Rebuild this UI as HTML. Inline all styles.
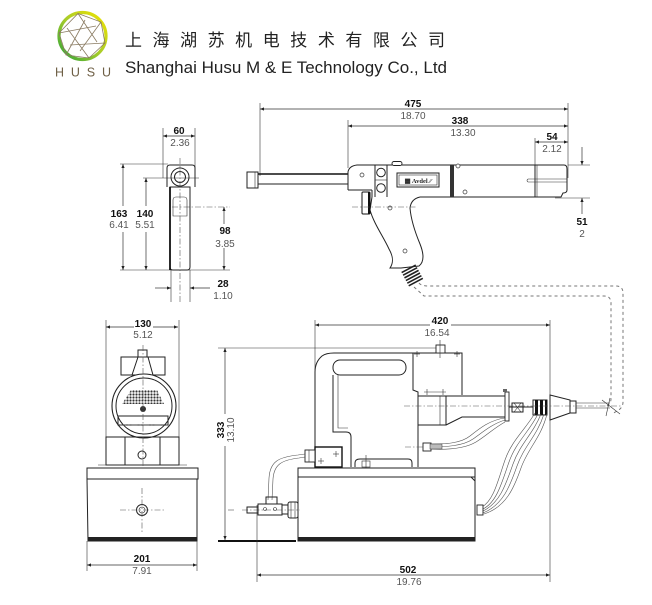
<!DOCTYPE html>
<html><head><meta charset="utf-8"><style>
html,body{margin:0;padding:0;background:#fff;}
svg{display:block;}
.l{fill:none;stroke:#222;stroke-width:1;}
.t{fill:none;stroke:#333;stroke-width:0.6;}
.d{fill:none;stroke:#333;stroke-width:0.7;}
.c{fill:none;stroke:#555;stroke-width:0.6;stroke-dasharray:6 2 1.5 2;}
.n{font-family:"Liberation Sans",sans-serif;font-size:10px;font-weight:bold;fill:#111;text-anchor:middle;}
.i{font-family:"Liberation Sans",sans-serif;font-size:10px;fill:#555;text-anchor:middle;}
</style></head><body>
<svg width="652" height="605" viewBox="0 0 652 605" xmlns="http://www.w3.org/2000/svg">
<defs>
<marker id="a" viewBox="0 0 10 10" refX="10" refY="5" markerUnits="userSpaceOnUse" markerWidth="7" markerHeight="4" orient="auto-start-reverse"><path d="M0,1 L10,5 L0,9z" fill="#222"/></marker>
<linearGradient id="g" x1="0" y1="1" x2="1" y2="0"><stop offset="0" stop-color="#2ea43a"/><stop offset="0.5" stop-color="#a8cc2a"/><stop offset="1" stop-color="#f2e400"/></linearGradient>
<pattern id="dots" width="3" height="3" patternUnits="userSpaceOnUse"><circle cx="1.5" cy="1.5" r="1.1" fill="#333"/></pattern>
</defs>

<!-- HEADER -->
<circle cx="82.5" cy="36" r="23.5" fill="none" stroke="url(#g)" stroke-width="3.2"/>
<g stroke="#8a7b62" stroke-width="0.8" fill="none">
<polygon points="78,13.5 101,22 105,43 89,58 66,55 59,33"/>
<line x1="78" y1="13.5" x2="97" y2="42"/>
<line x1="101" y1="22" x2="80" y2="51"/>
<line x1="105" y1="43" x2="70" y2="45"/>
<line x1="89" y1="58" x2="67" y2="28"/>
<line x1="66" y1="55" x2="85" y2="20"/>
<line x1="59" y1="33" x2="96" y2="26"/>
</g>
<text x="55" y="76.5" font-family="Liberation Sans,sans-serif" font-size="12.5" fill="#6e5f45" textLength="56" lengthAdjust="spacing">HUSU</text>
<text x="125" y="46" font-family="'Liberation Sans','Noto Sans CJK SC',sans-serif" font-size="17" fill="#222" textLength="320" lengthAdjust="spacing">上海湖苏机电技术有限公司</text>
<text x="125" y="73" font-family="Liberation Sans,sans-serif" font-size="17" fill="#222" textLength="322" lengthAdjust="spacingAndGlyphs">Shanghai Husu M &amp; E Technology Co., Ltd</text>

<!-- GUN FRONT VIEW -->
<line class="t" x1="163" y1="128" x2="163" y2="178"/>
<line class="t" x1="195" y1="128" x2="195" y2="178"/>
<line class="d" x1="163" y1="136" x2="195" y2="136" marker-start="url(#a)" marker-end="url(#a)"/>
<text class="n" x="179" y="134">60</text><text class="i" x="180" y="146">2.36</text>
<line class="t" x1="120" y1="164" x2="168" y2="164"/>
<line class="t" x1="143" y1="178" x2="199" y2="178"/>
<line class="t" x1="120" y1="270" x2="230" y2="270"/>
<line class="c" x1="172" y1="207" x2="230" y2="207"/>
<line class="d" x1="123" y1="164" x2="123" y2="270" marker-start="url(#a)" marker-end="url(#a)"/>
<line class="d" x1="146" y1="178" x2="146" y2="270" marker-start="url(#a)" marker-end="url(#a)"/>
<line class="d" x1="224" y1="207" x2="224" y2="270" marker-start="url(#a)" marker-end="url(#a)"/>
<rect x="112" y="206" width="42" height="26" fill="#fff"/>
<text class="n" x="119" y="217">163</text><text class="i" x="119" y="228">6.41</text>
<text class="n" x="145" y="217">140</text><text class="i" x="145" y="228">5.51</text>
<rect x="216" y="224" width="20" height="24" fill="#fff"/>
<text class="n" x="225" y="234">98</text><text class="i" x="225" y="247">3.85</text>
<path class="l" d="M167,187 L167,168 Q167,165 170,165 L192,165 Q195,165 195,168 L195,187"/>
<path class="l" d="M170,187 L170,267 Q170,270 173,270 L187,270 Q190,270 190,267 L190,187 Z"/>
<line x1="170" y1="187" x2="170" y2="270" stroke="#111" stroke-width="1.8"/>
<circle cx="180" cy="177" r="9" class="l"/><circle cx="180" cy="177" r="5.5" class="l"/>
<path class="t" d="M173,200 Q173,197 176,197 L184,197 Q187,197 187,200 L187,216 L173,216 Z"/>
<line class="c" x1="180" y1="158" x2="180" y2="302"/>
<line class="t" x1="171" y1="270" x2="171" y2="302"/>
<line class="t" x1="190" y1="270" x2="190" y2="302"/>
<line class="d" x1="155" y1="288" x2="171" y2="288" marker-end="url(#a)"/>
<line class="d" x1="210" y1="288" x2="190" y2="288" marker-end="url(#a)"/>
<text class="n" x="223" y="287">28</text><text class="i" x="223" y="299">1.10</text>

<!-- GUN SIDE VIEW dims -->
<line class="t" x1="260" y1="103" x2="260" y2="176"/>
<line class="t" x1="348" y1="120" x2="348" y2="168"/>
<line class="t" x1="568" y1="103" x2="568" y2="178"/>
<line class="t" x1="535" y1="138" x2="535" y2="165"/>
<line class="t" x1="568" y1="165" x2="590" y2="165"/>
<line class="t" x1="555" y1="198" x2="590" y2="198"/>
<line class="d" x1="260" y1="109" x2="568" y2="109" marker-start="url(#a)" marker-end="url(#a)"/>
<line class="d" x1="348" y1="126" x2="568" y2="126" marker-start="url(#a)" marker-end="url(#a)"/>
<line class="d" x1="535" y1="142" x2="568" y2="142" marker-start="url(#a)" marker-end="url(#a)"/>
<line class="d" x1="582" y1="147" x2="582" y2="165" marker-end="url(#a)"/>
<line class="d" x1="582" y1="214" x2="582" y2="198" marker-end="url(#a)"/>
<text class="n" x="413" y="107">475</text><text class="i" x="413" y="119">18.70</text>
<text class="n" x="460" y="124">338</text><text class="i" x="463" y="136">13.30</text>
<text class="n" x="552" y="140">54</text><text class="i" x="552" y="152">2.12</text>
<text class="n" x="582" y="225">51</text><text class="i" x="582" y="237">2</text>

<!-- GUN SIDE VIEW body -->
<rect class="l" x="247" y="172" width="11" height="16"/>
<line class="t" x1="255" y1="172" x2="255" y2="188"/>
<rect class="l" x="258" y="174" width="90" height="10"/>
<line x1="258" y1="174" x2="348" y2="174" stroke="#111" stroke-width="1.6"/>
<path class="l" d="M348,190 L348,172 Q349,166 357,165 L564,165 Q567,165 567,169 L567,190 Q567,193 563,193 L561,197 L420,197"/>
<line class="l" x1="348" y1="190" x2="372" y2="190"/>
<line class="l" x1="375" y1="165" x2="375" y2="197"/>
<line class="l" x1="387" y1="165" x2="387" y2="197"/>
<line class="t" x1="375" y1="180" x2="387" y2="180"/>
<circle class="l" cx="381" cy="172.5" r="4.3"/><circle class="l" cx="381" cy="188" r="4.3"/>
<rect x="392" y="161.5" width="10" height="4" rx="2" fill="#fff" stroke="#222" stroke-width="0.9"/>
<rect class="l" x="397" y="173" width="42" height="14"/>
<rect class="t" x="399" y="175" width="38" height="10"/>
<text x="418" y="183" font-family="Liberation Serif,serif" font-size="6.5" font-weight="bold" fill="#222" text-anchor="middle">▦ Avdel ⁄⁄</text>
<rect x="450" y="165" width="4" height="32" fill="#333"/>
<line class="l" x1="535" y1="165" x2="535" y2="197"/>
<line class="t" x1="537" y1="165" x2="537" y2="197"/>
<path class="t" d="M528,179 L567,179 M528,182 L567,182 M528,179 Q526,180.5 528,182"/>
<g fill="#fff" stroke="#333" stroke-width="0.7">
<circle cx="362" cy="175" r="2"/><circle cx="458" cy="166" r="2"/><circle cx="465" cy="192" r="2"/><circle cx="390" cy="208" r="2"/><circle cx="405" cy="251" r="2"/>
</g>
<path class="l" d="M372,190 L372,197 M420,197 Q411,199 410,208 C411,220 415,232 420,244 C424,254 424,262 419,266 L401,268 L390,268 C394,262 393,256 389,249 C383,236 374,224 370,210 L372,197"/>
<rect x="362" y="192" width="8" height="22" rx="1" fill="#fff" stroke="#111" stroke-width="1"/>
<line x1="369" y1="192" x2="369" y2="214" stroke="#111" stroke-width="2"/>
<line class="c" x1="352" y1="207" x2="416" y2="207"/>
<g transform="rotate(-28 412 275)" stroke="#222" stroke-width="1.6">
<line x1="404" y1="268" x2="420" y2="268"/><line x1="404" y1="271" x2="420" y2="271"/><line x1="404" y1="274" x2="420" y2="274"/><line x1="404" y1="277" x2="420" y2="277"/><line x1="404" y1="280" x2="420" y2="280"/><line x1="404" y1="283" x2="420" y2="283"/>
</g>

<!-- dashed hose -->
<g fill="none" stroke="#777" stroke-width="1" stroke-dasharray="3 3">
<path d="M419,283 Q421,286 429,286 L616,286 Q623,286 623,293 L623,402 Q623,408 617,411 L612,414"/>
<path d="M414,287 L424,296 L604,296 Q611,296 611,303 L611,399 Q611,404 605,407"/>
</g>

<!-- PUMP FRONT VIEW -->
<line class="t" x1="106" y1="320" x2="106" y2="438"/>
<line class="t" x1="179" y1="320" x2="179" y2="438"/>
<line class="d" x1="106" y1="327" x2="178" y2="327" marker-start="url(#a)" marker-end="url(#a)"/>
<rect x="134" y="318" width="19" height="22" fill="#fff"/>
<text class="n" x="143" y="327">130</text><text class="i" x="143" y="338">5.12</text>
<rect class="l" x="121" y="357" width="44" height="18"/>
<rect class="l" x="138" y="350" width="9" height="7"/>
<path class="l" d="M132,375 L138,357 M148,357 L153,375"/>
<circle cx="144" cy="406" r="32" fill="#fff" stroke="#222" stroke-width="1.1"/>
<circle class="l" cx="144" cy="406" r="28"/>
<polygon points="131,390 157,390 164,404 122,404" fill="url(#dots)"/>
<circle cx="143" cy="409" r="3" fill="#333"/>
<rect class="l" x="118" y="416" width="50" height="9"/>
<rect class="l" x="106" y="437" width="73" height="28"/>
<line class="l" x1="125" y1="437" x2="125" y2="465"/><line class="l" x1="160" y1="437" x2="160" y2="465"/>
<circle class="l" cx="142" cy="455" r="4"/>
<line class="t" x1="98" y1="465" x2="187" y2="465"/>
<rect class="l" x="87" y="468" width="111" height="11"/>
<path class="l" d="M87,479 L88,541 L197,541 L197,479"/>
<rect x="88" y="537" width="109" height="4" fill="#222"/>
<circle class="l" cx="142" cy="510" r="5.5"/><circle class="t" cx="142" cy="510" r="3"/>
<line class="c" x1="120" y1="510" x2="165" y2="510"/>
<line class="c" x1="142" y1="488" x2="142" y2="532"/>
<line class="c" x1="143" y1="345" x2="143" y2="468"/>
<line class="c" x1="120" y1="425" x2="168" y2="425" stroke-dasharray="0"/>
<line class="t" x1="87" y1="541" x2="87" y2="571"/>
<line class="t" x1="197" y1="541" x2="197" y2="571"/>
<line class="d" x1="87" y1="565" x2="197" y2="565" marker-start="url(#a)" marker-end="url(#a)"/>
<rect x="132" y="554" width="20" height="10" fill="#fff"/>
<text class="n" x="142" y="562">201</text><text class="i" x="142" y="574">7.91</text>

<!-- 333 dim -->
<line class="t" x1="218" y1="348" x2="438" y2="348"/>
<line x1="218" y1="541" x2="296" y2="541" stroke="#111" stroke-width="2"/>
<line class="d" x1="225" y1="348" x2="225" y2="540" marker-start="url(#a)" marker-end="url(#a)"/>
<rect x="214" y="414" width="22" height="32" fill="#fff"/>
<text class="n" x="0" y="0" transform="translate(224,430) rotate(-90)">333</text>
<text class="i" x="0" y="0" transform="translate(234,430) rotate(-90)">13.10</text>
<line class="c" x1="228" y1="510" x2="236" y2="510" stroke-dasharray="0"/>

<!-- PUMP SIDE VIEW -->
<line class="t" x1="315" y1="320" x2="315" y2="370"/>
<line class="t" x1="550" y1="320" x2="550" y2="582"/>
<line class="t" x1="257" y1="505" x2="257" y2="582"/>
<line class="d" x1="315" y1="325" x2="430" y2="325" marker-start="url(#a)"/>
<line class="d" x1="451" y1="325" x2="550" y2="325" marker-end="url(#a)"/>
<text class="n" x="440" y="324">420</text><text class="i" x="437" y="336">16.54</text>
<line class="d" x1="257" y1="575" x2="550" y2="575" marker-start="url(#a)" marker-end="url(#a)"/>
<text class="n" x="408" y="573">502</text><text class="i" x="409" y="585">19.76</text>

<path class="l" d="M315,447 L315,372 Q315,362 322,356 Q326,353 334,353 L413,353"/>
<rect class="l" x="333" y="360" width="73" height="15" rx="7"/>
<path class="l" d="M333,375 L333,432 L346,432 Q351,432 351,437 L351,447"/>
<path class="t" d="M338,375 L338,428 L348,428"/>
<line class="l" x1="351" y1="447" x2="351" y2="467"/>
<rect x="315" y="447" width="27" height="20" fill="#fff" stroke="#111" stroke-width="1.4"/>
<g stroke="#333" stroke-width="0.6"><line x1="333" y1="454" x2="339" y2="454"/><line x1="336" y1="451" x2="336" y2="457"/><line x1="318" y1="461" x2="324" y2="461"/><line x1="321" y1="458" x2="321" y2="464"/></g>
<path class="l" d="M355,467 L355,463 Q355,459 360,459 L408,459 Q412,459 412,463 L412,467"/>
<rect class="t" x="362" y="461" width="8" height="6"/>
<line class="t" x1="366" y1="455" x2="366" y2="468"/>
<path class="l" d="M413,353 L462,353 L462,395 M413,353 L413,390 L418,392 L418,467"/>
<rect x="436" y="345" width="9" height="8" fill="#fff" stroke="#222" stroke-width="0.9"/>
<line class="t" x1="440" y1="340" x2="440" y2="358"/>
<g stroke="#333" stroke-width="0.6"><line x1="417" y1="351" x2="417" y2="357"/><line x1="414" y1="354" x2="420" y2="354"/><line x1="457" y1="351" x2="457" y2="357"/><line x1="454" y1="354" x2="460" y2="354"/><line x1="427" y1="389" x2="427" y2="395"/><line x1="443" y1="389" x2="443" y2="395"/><line x1="424" y1="392" x2="446" y2="392"/></g>
<path class="l" d="M418,396 L506,396 M446,396 L446,425 L418,425 M446,425 L462,417 L506,417"/>
<line class="t" x1="440" y1="396" x2="440" y2="425"/>
<rect x="505" y="392" width="4" height="29" fill="#fff" stroke="#222" stroke-width="0.9"/>
<rect x="503" y="389" width="4" height="3" fill="#666"/>
<rect class="l" x="512" y="403" width="11" height="9"/>
<path class="t" d="M514,403 L521,412 M521,403 L514,412"/>
<line class="l" x1="509" y1="407" x2="533" y2="407"/>
<rect class="l" x="533" y="400" width="14" height="15"/>
<rect x="535" y="400" width="3" height="15" fill="#111"/><rect x="540" y="400" width="3" height="15" fill="#111"/><rect x="545" y="400" width="2" height="15" fill="#111"/>
<path class="l" d="M550,395 L570,400 L570,413 L550,420 Z"/>
<rect class="l" x="570" y="401" width="6" height="12"/>
<path class="t" d="M576,403 L610,403 M576,408 L610,408"/>
<line class="c" x1="404" y1="406" x2="622" y2="406"/>
<path class="t" d="M602,400 L620,414 M610,398 L606,416"/>
<rect x="298" y="468" width="177" height="9" fill="#fff" stroke="#222" stroke-width="1"/>
<path class="l" d="M298,477 L298,541 L475,541 L475,477 M471,477 L475,481"/>
<rect x="298" y="537" width="177" height="4" fill="#222"/>
<!-- hoses -->
<g fill="none" stroke="#555" stroke-width="0.6">
<path d="M535,413 C525,430 512,440 505,460 S494,500 482,507"/>
<path d="M538,414 C529,432 516,442 509,462 S497,502 483,509"/>
<path d="M541,414 C533,434 520,444 513,464 S500,503 483,511"/>
<path d="M544,414 C537,436 524,446 517,466 S503,505 483,513"/>
<path d="M547,414 C541,438 528,448 521,468 S506,507 484,514"/>
<path d="M505,418 C490,420 480,428 470,436 S444,444 428,444"/>
<path d="M505,420 C492,424 483,432 473,439 S446,447 428,447"/>
<path d="M505,422 C494,428 486,436 476,442 S449,450 430,449"/>
<path d="M268,500 L269,478 C270,462 278,457 298,455 L305,454"/>
<path d="M272,500 L273,479 C274,465 281,460 299,458 L305,457"/>
</g>
<rect x="423" y="443" width="8" height="8" fill="#fff" stroke="#222" stroke-width="0.9"/>
<rect x="430" y="444" width="12" height="5" fill="#bbb" stroke="#333" stroke-width="0.5"/>
<line class="c" x1="405" y1="447" x2="424" y2="447"/>
<rect x="477" y="505" width="6" height="10" fill="#fff" stroke="#222" stroke-width="0.9"/>
<!-- left fitting -->
<rect x="305" y="450" width="10" height="12" fill="#fff" stroke="#222" stroke-width="0.9"/>
<line class="t" x1="309" y1="450" x2="309" y2="462"/>
<line class="c" x1="242" y1="510" x2="300" y2="510"/>
<rect class="l" x="247" y="507" width="11" height="6"/>
<rect class="l" x="258" y="504" width="24" height="11"/>
<rect class="l" x="266" y="497" width="11" height="7"/>
<circle class="t" cx="265" cy="509" r="1.5"/><circle class="t" cx="275" cy="509" r="1.5"/>
<rect class="l" x="282" y="505" width="6" height="9"/>
<rect class="l" x="288" y="502" width="10" height="16" rx="2"/>
<path class="t" d="M291,502 L291,518 M295,502 L295,518"/>
</svg>
</body></html>
